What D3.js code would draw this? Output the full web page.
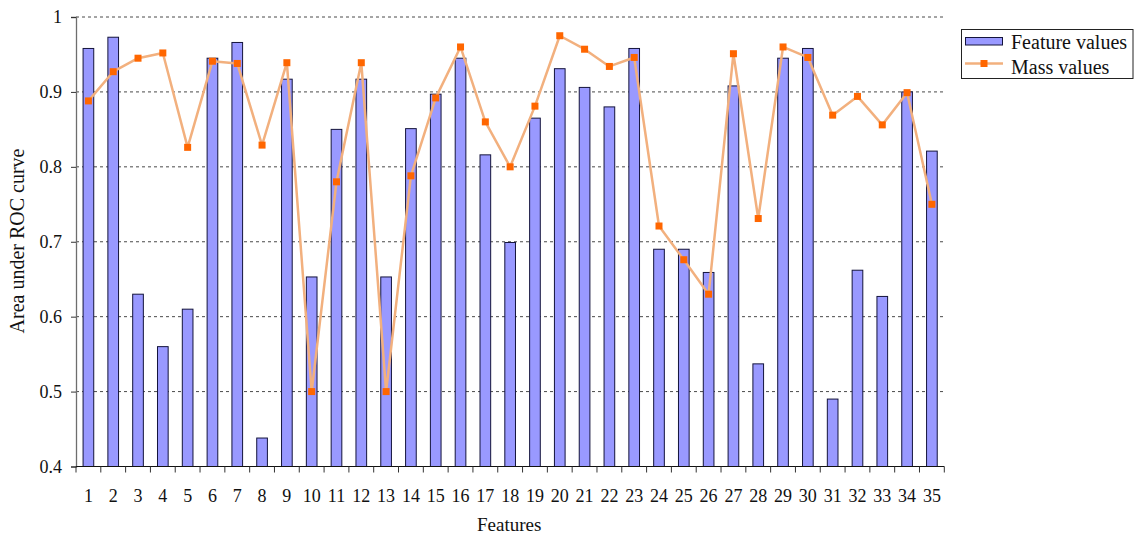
<!DOCTYPE html>
<html>
<head>
<meta charset="utf-8">
<script src="https://cdn.jsdelivr.net/npm/d3@7"></script>
<style>
  html, body { margin: 0; padding: 0; background: #ffffff; }
  svg { display: block; }
  text { font-family: "Liberation Serif", "Times New Roman", serif; fill: #111; }
</style>
</head>
<body>
<svg id="chart" width="1136" height="534"></svg>
<script>
// Feature indices 1..35
const features = d3.range(1, 36).map(String);

// AUC per individual feature (bars)
const featureValues = [
  0.958, 0.973, 0.630, 0.560, 0.610, 0.945, 0.966, 0.438, 0.917, 0.653,
  0.850, 0.917, 0.653, 0.851, 0.897, 0.945, 0.816, 0.699, 0.865, 0.931,
  0.906, 0.880, 0.958, 0.690, 0.690, 0.659, 0.908, 0.537, 0.945, 0.958,
  0.490, 0.662, 0.627, 0.900, 0.821
];

// AUC of the mass-level values (line with square markers)
const massValues = [
  0.888, 0.927, 0.945, 0.952, 0.826, 0.941, 0.938, 0.829, 0.939, 0.500,
  0.780, 0.939, 0.500, 0.788, 0.892, 0.960, 0.860, 0.800, 0.881, 0.975,
  0.957, 0.934, 0.946, 0.721, 0.676, 0.630, 0.951, 0.731, 0.960, 0.946,
  0.869, 0.894, 0.856, 0.899, 0.750
];

const yTicks = [0.4, 0.5, 0.6, 0.7, 0.8, 0.9, 1.0];
const legendLabels = ["Feature values", "Mass values"];

const svg = d3.select("#chart");
const plotL = 76, plotR = 944.3, plotT = 17, plotB = 466.5;

const x = d3.scaleBand().domain(features).range([plotL, plotR]).padding(0);
const y = d3.scaleLinear().domain([0.4, 1.0]).range([plotB, plotT]);

const barColor = "#9999ff";
const lineColor = "#f2b07e";
const markerColor = "#ff6600";

// Dashed horizontal gridlines
svg.append("g")
  .selectAll("line")
  .data(yTicks.filter(d => d > 0.4))
  .join("line")
  .attr("x1", plotL).attr("x2", plotR)
  .attr("y1", d => y(d)).attr("y2", d => y(d))
  .attr("stroke", "#4a4a4a")
  .attr("stroke-width", 1)
  .attr("stroke-dasharray", "3,3");

// Bars
const barW = x.bandwidth() * 0.43;
svg.append("g")
  .selectAll("rect")
  .data(featureValues)
  .join("rect")
  .attr("x", (d, i) => x(features[i]) + x.bandwidth() / 2 - barW / 2)
  .attr("y", d => y(d))
  .attr("width", barW)
  .attr("height", d => y(0.4) - y(d))
  .attr("fill", barColor)
  .attr("stroke", "#14143c")
  .attr("stroke-width", 1);

// Mass values line
const line = d3.line()
  .x((d, i) => x(features[i]) + x.bandwidth() / 2)
  .y(d => y(d));

svg.append("path")
  .datum(massValues)
  .attr("d", line)
  .attr("fill", "none")
  .attr("stroke", lineColor)
  .attr("stroke-width", 2.5)
  .attr("stroke-linejoin", "round");

const mk = 7;
svg.append("g")
  .selectAll("rect")
  .data(massValues)
  .join("rect")
  .attr("x", (d, i) => x(features[i]) + x.bandwidth() / 2 - mk / 2)
  .attr("y", d => y(d) - mk / 2)
  .attr("width", mk)
  .attr("height", mk)
  .attr("fill", markerColor);

// Y axis
const yAxis = d3.axisLeft(y)
  .tickValues(yTicks)
  .tickFormat(d => d === 1 ? "1" : d3.format(".1f")(d))
  .tickSize(5)
  .tickPadding(9);
const gy = svg.append("g").attr("transform", `translate(${plotL},0)`).call(yAxis);
gy.select(".domain").attr("stroke", "#6e6e6e").attr("stroke-width", 1.3);
gy.selectAll(".tick line").attr("stroke", "#333");
gy.selectAll(".tick text")
  .style("font-family", "Liberation Serif, serif")
  .style("font-size", "18px")
  .attr("fill", "#111");

// X axis: ticks on category boundaries, labels centered in bands
const gx = svg.append("g").attr("transform", `translate(0,${plotB})`);
gx.append("line")
  .attr("x1", plotL).attr("x2", plotR)
  .attr("y1", 0).attr("y2", 0)
  .attr("stroke", "#111").attr("stroke-width", 1.2);
const boundaries = features.map(f => x(f)).concat([plotR]);
gx.selectAll(".bt")
  .data(boundaries)
  .join("line")
  .attr("class", "bt")
  .attr("x1", d => d).attr("x2", d => d)
  .attr("y1", 0).attr("y2", 6)
  .attr("stroke", "#333");
gx.selectAll(".xl")
  .data(features)
  .join("text")
  .attr("class", "xl")
  .attr("x", d => x(d) + x.bandwidth() / 2)
  .attr("y", 35)
  .attr("text-anchor", "middle")
  .style("font-size", "18px")
  .text(d => d);

// Axis titles
svg.append("text")
  .attr("x", (plotL + plotR) / 2 - 1)
  .attr("y", 531)
  .attr("text-anchor", "middle")
  .style("font-size", "19px")
  .text("Features");

svg.append("text")
  .attr("transform", "translate(24,241) rotate(-90)")
  .attr("text-anchor", "middle")
  .style("font-size", "20px")
  .text("Area under ROC curve");

// Legend
const lg = svg.append("g");
lg.append("rect")
  .attr("x", 961.5).attr("y", 29.5)
  .attr("width", 171.5).attr("height", 49)
  .attr("fill", "#fff")
  .attr("stroke", "#222").attr("stroke-width", 1);
lg.append("rect")
  .attr("x", 965.5).attr("y", 37.5)
  .attr("width", 37).attr("height", 7.5)
  .attr("fill", barColor)
  .attr("stroke", "#14143c").attr("stroke-width", 1);
lg.append("line")
  .attr("x1", 965).attr("x2", 1003)
  .attr("y1", 63.5).attr("y2", 63.5)
  .attr("stroke", lineColor).attr("stroke-width", 2.5);
lg.append("rect")
  .attr("x", 984 - mk / 2).attr("y", 63.5 - mk / 2)
  .attr("width", mk).attr("height", mk)
  .attr("fill", markerColor);
lg.selectAll(".lt")
  .data(legendLabels)
  .join("text")
  .attr("class", "lt")
  .attr("x", 1011)
  .attr("y", (d, i) => 49 + i * 24.5)
  .style("font-size", "20px")
  .text(d => d);
</script>
</body>
</html>
